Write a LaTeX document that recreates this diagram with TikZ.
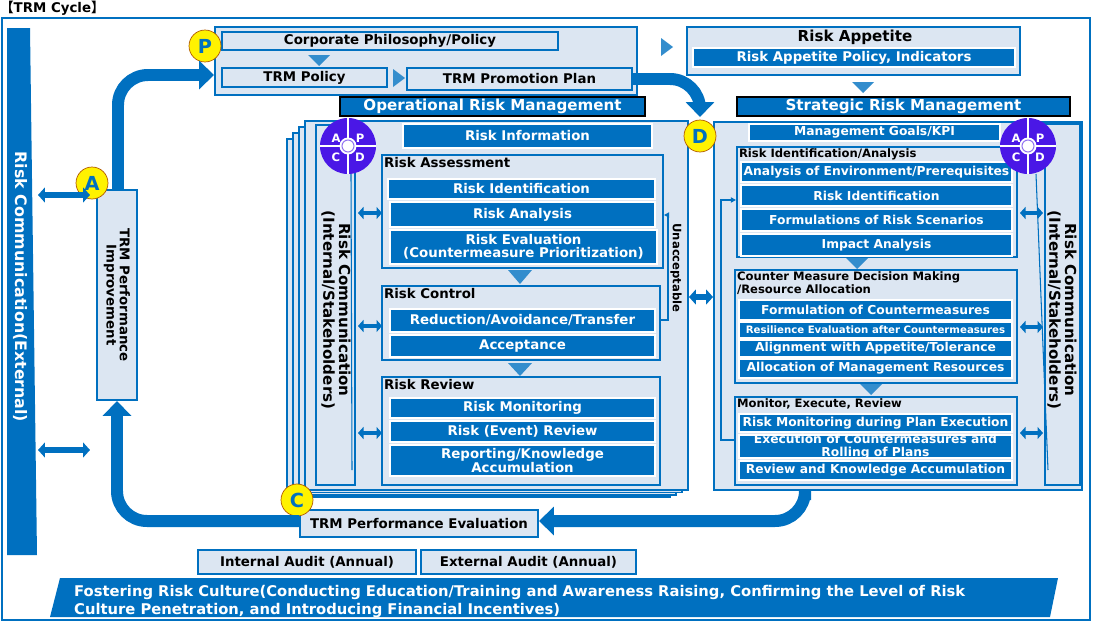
\documentclass[tikz,border=0pt]{standalone}
\usepackage{fontspec}
\setmainfont{DejaVu Sans}
\newfontfamily\cjk{Noto Sans CJK JP}
\usetikzlibrary{arrows.meta, fit, calc}
\definecolor{tblue}{HTML}{0070C0}
\definecolor{tlight}{HTML}{DCE6F2}
\definecolor{tpurple}{HTML}{4A17E6}
\newcommand{\fs}{\fontsize{7.6}{7.6}\selectfont\bfseries}
\newcommand{\fsm}{\fontsize{7}{7.2}\selectfont\bfseries}
\newcommand{\fss}{\fontsize{6.6}{6.2}\selectfont\bfseries}
\tikzset{
  bbox/.style={fill=tblue, draw=white, line width=0.8pt, text=white, font=\fs, inner sep=0pt, align=center},
  sbox/.style={bbox, font=\fsm},
  panel/.style={fill=tlight, draw=tblue, line width=1.1pt, inner sep=0pt},
  hbox/.style={fill=tblue, draw=black, line width=0.6pt, text=white, font=\fontsize{8.6}{9}\selectfont\bfseries, inner sep=0pt},
  lbox/.style={fill=tlight, draw=tblue, line width=1.1pt, font=\fs, inner sep=0pt, align=center},
  ptitle/.style={anchor=north west, font=\fs, inner sep=1.5pt},
  ymark/.style={circle, fill=yellow, draw=orange!70!black, line width=0.4pt, text=tblue, font=\fontsize{11}{11}\selectfont\bfseries, minimum size=0.64cm, inner sep=0pt},
  fat/.style={tblue, line width=0.24cm, rounded corners=0.6cm, -{Triangle[width=0.56cm,length=0.3cm]}},
  dbl/.style={tblue, line width=0.12cm, {Triangle[width=0.3cm,length=0.14cm]}-{Triangle[width=0.3cm,length=0.14cm]}},
  sdbl/.style={tblue, line width=0.09cm, {Triangle[width=0.24cm,length=0.11cm]}-{Triangle[width=0.24cm,length=0.11cm]}},
  tri/.style={fill=tblue!80!white, draw=none},
}
% box with its text centred
\newcommand{\bx}[4][bbox]{%
  \node[#1, fit={#3}] (#2) {};
  \node[#1, fill=none, draw=none] at (#2.center) {#4};
}
\newcommand{\pdca}[2]{%
  \fill[tpurple] (#1) circle[radius=0.56cm];
  \draw[white, line width=1.2pt] ($(#1)+(-28,0)$) -- ($(#1)+(28,0)$) ($(#1)+(0,-28)$) -- ($(#1)+(0,28)$);
  \fill[white] (#1) circle[radius=0.17cm];
  \draw[tpurple!60, line width=0.6pt] (#1) circle[radius=0.12cm];
  \node[text=white, font=\fss] at ($(#1)+(-12,-8)$) {A};
  \node[text=white, font=\fss] at ($(#1)+(12,-8)$) {P};
  \node[text=white, font=\fss] at ($(#1)+(-12,11)$) {C};
  \node[text=white, font=\fss] at ($(#1)+(12,11)$) {D};
  \coordinate (#2) at (#1);
}
\begin{document}
\begin{tikzpicture}[x=0.02cm, y=-0.02cm]
  \useasboundingbox (0,0) rectangle (1093,622);
  \node[anchor=north west, inner sep=0pt, font=\fs] (ttl) at (0,1) {{\cjk 【}TRM Cycle{\cjk 】}};
  \draw[tblue, line width=1pt] (2,18) rectangle (1090,620);

  % external communication and culture
  \fill[tblue] (7,28) -- (30,28) -- (37,555) -- (7,555) -- cycle;
  \node[rotate=-90, text=white, font=\fontsize{9}{10}\selectfont\bfseries] (ext) at (20,287) {Risk Communication(External)};
  \fill[tblue] (60,578) -- (1058,578) -- (1050,617) -- (50,617) -- cycle;
  \node[anchor=north west, text=white, font=\fontsize{8.4}{10.5}\selectfont\bfseries, align=left] (cult) at (68,579)
    {Fostering Risk Culture(Conducting Education/Training and Awareness Raising, Confirming the Level of Risk\\Culture Penetration, and Introducing Financial Incentives)};

  % A
  \node[lbox, fit={(97,190)(137,400)}] (impr) {};
  \node[rotate=-90, font=\fs, align=center] at (impr) {TRM Performance\\Improvement};
  \node[ymark] (ma) at (92,183) {A};
  \draw[dbl] (38,195) -- (90,195);
  \draw[dbl] (38,450) -- (90,450);

  % P
  \node[panel, fit={(215,27)(637,95)}] (plan) {};
  \bx[lbox]{phil}{(222,32)(558,50)}{Corporate Philosophy/Policy}
  \bx[lbox]{pol}{(222,68)(387,87)}{TRM Policy}
  \bx[lbox]{prom}{(407,68)(632,90)}{TRM Promotion Plan}
  \fill[tri] (308,55) -- (330,55) -- (319,66) -- cycle;
  \fill[tri] (393,69) -- (405,78) -- (393,87) -- cycle;
  \node[ymark] (mp) at (205,46) {P};
  \fill[tri] (661,38) -- (673,47) -- (661,56) -- cycle;

  % risk appetite
  \node[panel, fit={(687,27)(1020,75)}] (app) {};
  \node[font=\fontsize{8.6}{9}\selectfont\bfseries] at (855,37) {Risk Appetite};
  \bx{appi}{(693,48)(1015,67)}{Risk Appetite Policy, Indicators}
  \fill[tri] (852,82) -- (874,82) -- (863,93) -- cycle;

  % headers
  \bx[hbox]{oph}{(340,97)(645,116)}{Operational Risk Management}
  \bx[hbox]{sth}{(737,97)(1070,116)}{Strategic Risk Management}

  % operational module
  \foreach \d in {18,12,6} \draw[tblue, fill=tlight, line width=1pt] (305-\d,121+\d) rectangle (688-\d,490+\d*0.4);
  \node[panel, fit={(305,121)(688,490)}] (ops) {};
  \node[lbox, fit={(316,125)(355,485)}] (opc) {};
  \node[rotate=-90, font=\fontsize{8.6}{9}\selectfont\bfseries, align=center] at (336,310) {Risk Communication\\(Internal/Stakeholders)};
  \pdca{348,146}{oppd}
  \bx{rinfo}{(403,124)(652,148)}{Risk Information}
  \node[panel, fit={(382,155)(663,268)}] (ra) {};
  \node[ptitle] at (ra.north west) {Risk Assessment};
  \bx{ra1}{(388,179)(655,199)}{Risk Identification}
  \bx{ra2}{(390,202)(655,227)}{Risk Analysis}
  \bx{ra3}{(390,230)(657,264)}{Risk Evaluation\\(Countermeasure Prioritization)}
  \fill[tri] (508,270) -- (532,270) -- (520,284) -- cycle;
  \node[panel, fit={(382,286)(660,360)}] (rc) {};
  \node[ptitle] at (rc.north west) {Risk Control};
  \bx{rc1}{(390,309)(655,332)}{Reduction/Avoidance/Transfer}
  \bx{rc2}{(390,335)(655,357)}{Acceptance}
  \fill[tri] (508,363) -- (532,363) -- (520,376) -- cycle;
  \node[panel, fit={(382,377)(660,485)}] (rr) {};
  \node[ptitle] at (rr.north west) {Risk Review};
  \bx{rr1}{(390,398)(655,418)}{Risk Monitoring}
  \bx{rr2}{(390,421)(655,442)}{Risk (Event) Review}
  \bx{rr3}{(390,445)(655,476)}{Reporting/Knowledge\\Accumulation}
  \node[rotate=-90, font=\fss] (unacc) at (676,268) {Unacceptable};
  \draw[tblue, line width=0.8pt, -{Triangle[width=3pt,length=3pt]}] (rc.east|-0,320) -- (668,320) -- (668,215) -- (ra.east|-0,215);
  \foreach \y in {213,326,433} \draw[sdbl] (358,\y) -- (382,\y);

  % strategic module
  \node[panel, fit={(714,122)(1082,490)}] (str) {};
  \node[lbox, fit={(1045,124)(1080,485)}] (stc) {};
  \node[rotate=-90, font=\fontsize{8.6}{9}\selectfont\bfseries, align=center] at (1062,310) {Risk Communication\\(Internal/Stakeholders)};
  \bx[sbox]{kpi}{(749,124)(1000,141)}{Management Goals/KPI}
  \node[panel, fit={(737,147)(1017,257)}] (sa) {};
  \node[ptitle, font=\fss] at (sa.north west) {Risk Identification/Analysis};
  \bx[sbox]{sa1}{(741,162)(1012,182)}{Analysis of Environment/Prerequisites}
  \bx[sbox]{sa2}{(741,185)(1012,206)}{Risk Identification}
  \bx[sbox]{sa3}{(741,209)(1012,231)}{Formulations of Risk Scenarios}
  \bx[sbox]{sa4}{(741,234)(1012,256)}{Impact Analysis}
  \fill[tri] (846,258) -- (868,258) -- (857,269) -- cycle;
  \node[panel, fit={(735,270)(1017,383)}] (sd) {};
  \node[ptitle, font=\fss, align=left] at (sd.north west) {Counter Measure Decision Making\\/Resource Allocation};
  \bx[sbox]{sd1}{(739,300)(1012,320)}{Formulation of Countermeasures}
  \bx[sbox]{sd2}{(739,322)(1012,338)}{\fontsize{5.8}{6}\selectfont Resilience Evaluation after Countermeasures}
  \bx[sbox]{sd3}{(739,340)(1012,357)}{Alignment with Appetite/Tolerance}
  \bx[sbox]{sd4}{(739,359)(1012,378)}{Allocation of Management Resources}
  \fill[tri] (860,384) -- (882,384) -- (871,395) -- cycle;
  \node[panel, fit={(735,397)(1017,485)}] (se) {};
  \node[ptitle, font=\fss] at (se.north west) {Monitor, Execute, Review};
  \bx[sbox]{se1}{(739,414)(1012,432)}{Risk Monitoring during Plan Execution}
  \bx[sbox]{se2}{(739,435)(1012,458)}{Execution of Countermeasures and\\Rolling of Plans}
  \bx[sbox]{se3}{(739,461)(1012,480)}{Review and Knowledge Accumulation}
  \pdca{1028,146}{stpd}
  \draw[tblue, line width=0.8pt, -{Triangle[width=3pt,length=3pt]}] (se.west|-0,440) -- (721,440) -- (721,200) -- (sa.west|-0,200);
  \foreach \y in {213,327,433} \draw[sdbl] (1020,\y) -- (1043,\y);
  \draw[dbl] (ops.east|-0,297) -- (str.west|-0,297);
  \draw[tblue, line width=0.6pt] (oppd) ++(3,28) -- (352,470);
  \draw[tblue, line width=0.6pt] (stpd) ++(8,28) -- (1048,470);

  % C
  \bx[lbox]{eval}{(300,510)(538,537)}{TRM Performance Evaluation}
  \node[ymark] (mc) at (297,500) {C};
  \bx[lbox]{ia}{(198,550)(416,574)}{Internal Audit (Annual)}
  \bx[lbox]{ea}{(421,550)(636,574)}{External Audit (Annual)}

  % D
  \node[ymark] (md) at (700,136) {D};

  % cycle arrows
  \draw[fat] (118,190) |- (plan.west|-0,75);
  \draw[fat] (prom.east) -| (700,117);
  \draw[fat] (805,500) |- (eval.east|-0,521);
  \draw[fat] (eval.west|-0,521) -| (impr.south);
\end{tikzpicture}
\end{document}
